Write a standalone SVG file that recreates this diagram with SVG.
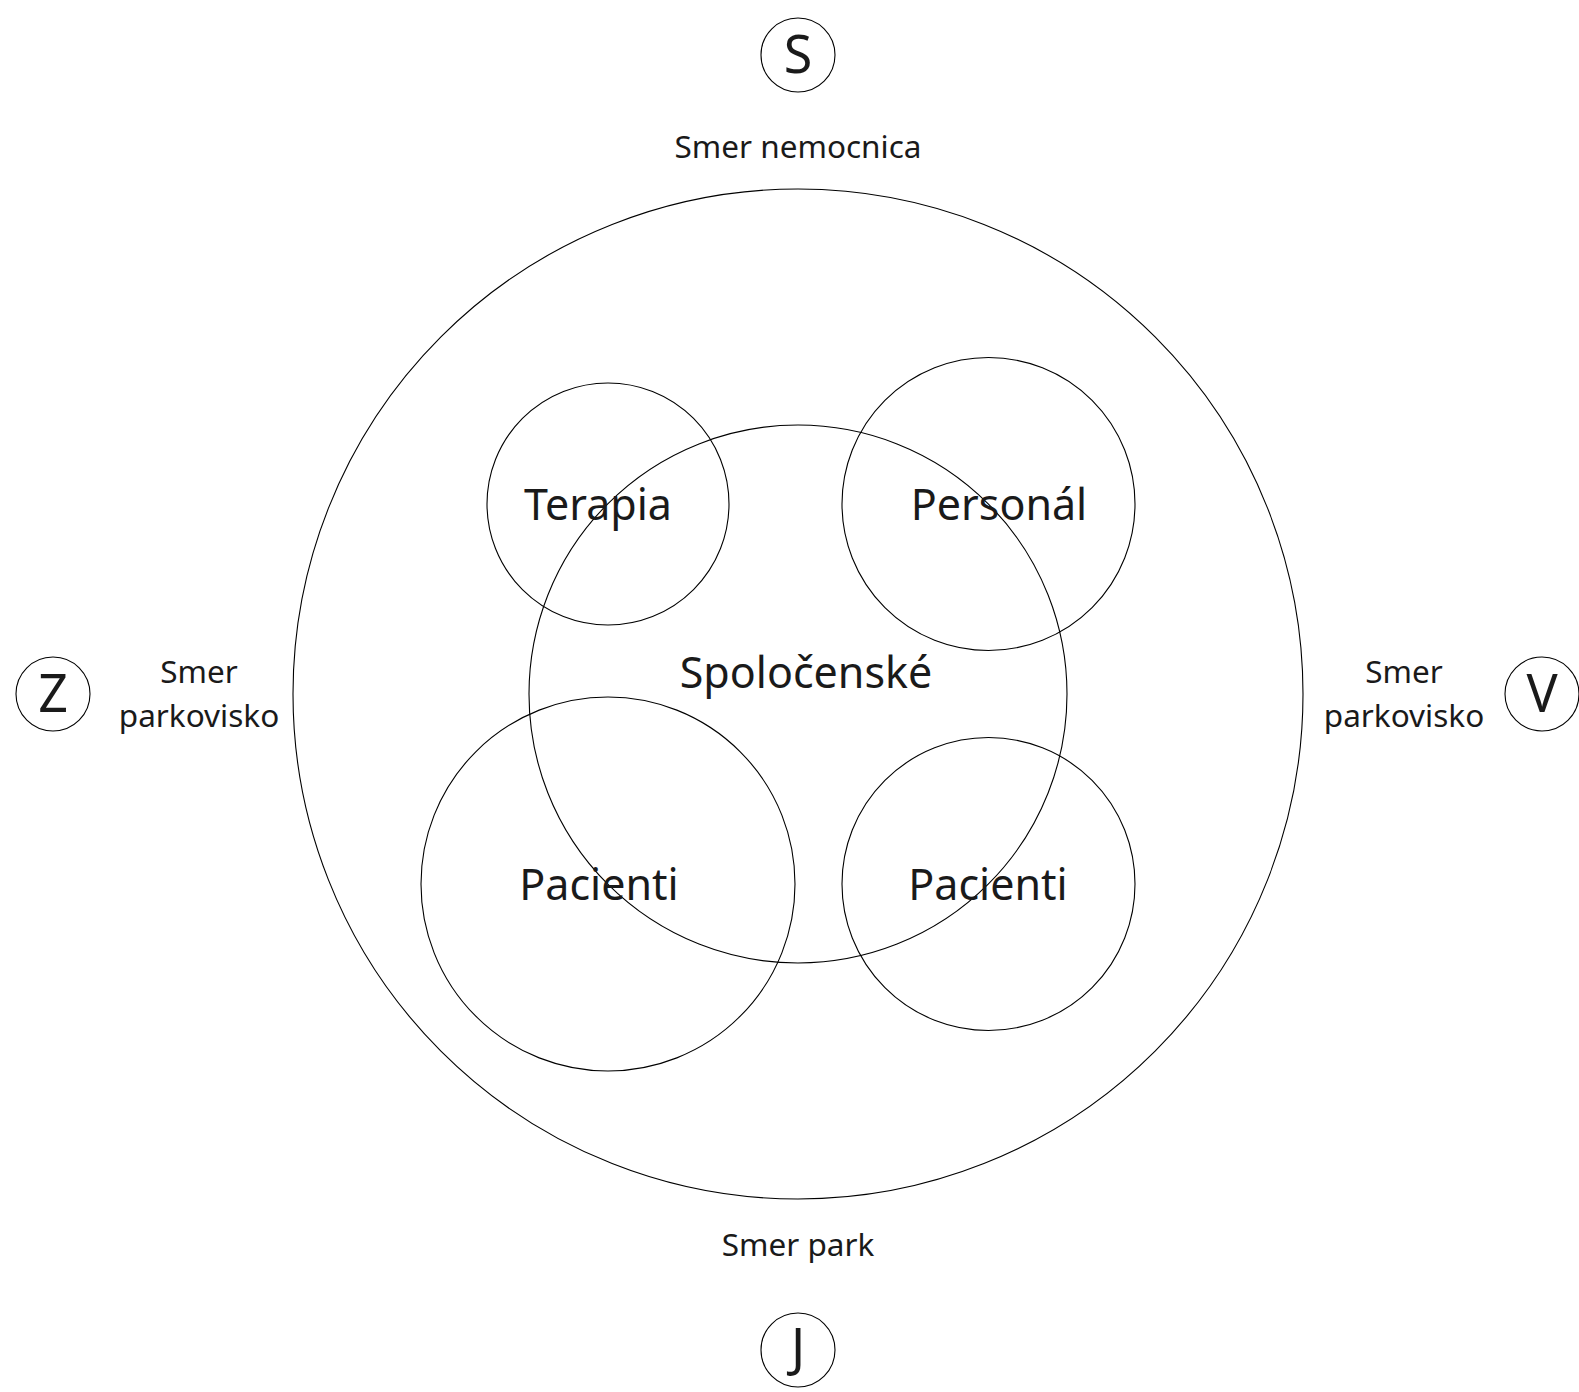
<svg xmlns="http://www.w3.org/2000/svg" width="1579" height="1392" viewBox="0 0 1579 1392">
<style>
.c{fill:none;stroke:#000;stroke-width:1.1}
.t{font-family:"Noto Sans","Open Sans",sans-serif;fill:#1a1a1a;text-anchor:middle}
.s{font-size:31.5px}
.l{font-size:43px}
.d{font-size:52px}
</style>
<rect width="1579" height="1392" fill="#fff"/>
<g id="outer"><circle class="c" cx="798" cy="694" r="505"/></g>
<g id="spolocenske"><circle class="c" cx="798" cy="694" r="269"/><text class="t l" x="806" y="688">Spoločenské</text></g>
<g id="terapia"><circle class="c" cx="608" cy="504" r="121"/><text class="t l" x="598" y="520">Terapia</text></g>
<g id="personal"><circle class="c" cx="988.5" cy="504" r="146.5"/><text class="t l" x="999" y="520">Personál</text></g>
<g id="pacienti1"><circle class="c" cx="608" cy="884" r="187"/><text class="t l" x="599" y="900">Pacienti</text></g>
<g id="pacienti2"><circle class="c" cx="988.5" cy="884" r="146.5"/><text class="t l" x="988" y="900">Pacienti</text></g>
<g id="S"><circle class="c" cx="798" cy="55" r="37"/><text class="t d" x="798" y="73">S</text></g>
<g id="J"><circle class="c" cx="798" cy="1350" r="37"/><text class="t d" x="798" y="1366">J</text></g>
<g id="Z"><circle class="c" cx="53" cy="694" r="37"/><text class="t d" x="53" y="712">Z</text></g>
<g id="V"><circle class="c" cx="1542" cy="694" r="37"/><text class="t d" x="1542" y="712">V</text></g>
<g id="labels">
<text class="t s" x="798" y="158">Smer nemocnica</text>
<text class="t s" x="798" y="1256">Smer park</text>
<text class="t s" x="199" y="683">Smer</text>
<text class="t s" x="199" y="727">parkovisko</text>
<text class="t s" x="1404" y="683">Smer</text>
<text class="t s" x="1404" y="727">parkovisko</text>
</g>
<g id="connectors"/>
</svg>
